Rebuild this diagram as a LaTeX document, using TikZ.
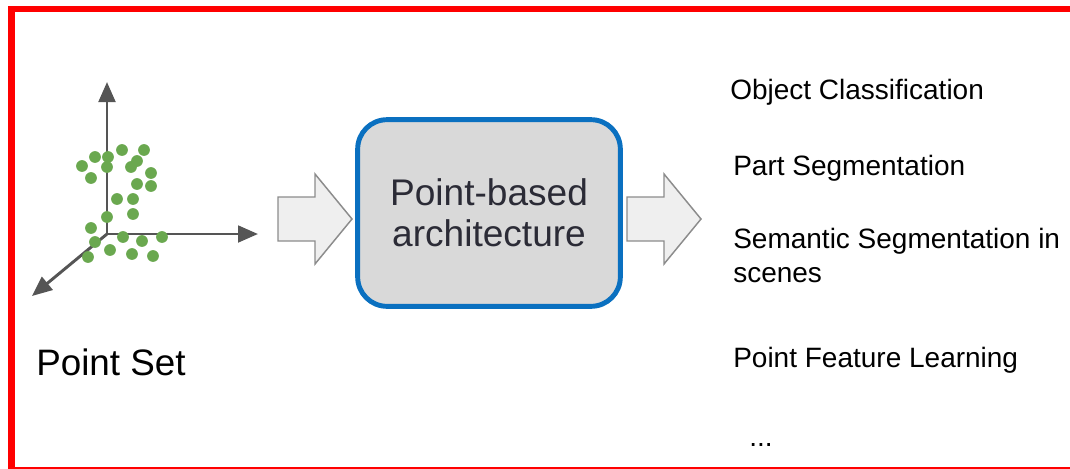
\documentclass[tikz,border=0pt]{standalone}
\usepackage{fontspec}
\setmainfont{Liberation Sans}
\usetikzlibrary{arrows.meta}

\definecolor{framered}{HTML}{FF0000}
\definecolor{dotgreen}{HTML}{6AA84F}
\definecolor{axisgray}{HTML}{555555}
\definecolor{boxblue}{HTML}{0A70C0}
\definecolor{boxfill}{HTML}{D9D9D9}
\definecolor{boxtext}{HTML}{2B2B36}
\definecolor{hollowfill}{HTML}{EFEFEF}
\definecolor{hollowline}{HTML}{8C8C8C}

\begin{document}
\begin{tikzpicture}[x=0.75pt,y=-0.75pt,
  axis/.style={draw=axisgray,line width=2.2pt,-{Triangle[length=15pt,width=12.5pt]}},
  pt/.style={fill=dotgreen},
  hollow/.style={draw=hollowline,fill=hollowfill,line width=1.1pt,line join=miter},
  task/.style={anchor=base west,inner sep=0pt,font=\fontsize{21}{25.5}\selectfont,align=left}]
\useasboundingbox (0,0) rectangle (1070,468);
\draw[framered,line width=4.6pt] (11.5,9) rectangle (1090,470);
% point set
\coordinate (o) at (107,234);
\coordinate (zup) at (107,82);
\coordinate (xr) at (258,234);
\coordinate (yd) at (32,296);
\draw[axis] (o) -- (zup);
\draw[axis] (o) -- (xr);
\draw[axis] (o) -- (yd);
\foreach \x/\y in {82/166,95/157,108/157,122/150,144/150,107/167,131/167,137/161,151/173,91/178,
  137/184,151/186,117/199,133/199,107/217,133/214,91/228,123/237,162/237,95/242,142/241,110/250,
  88/257,132/254,153/256}
  \fill[pt] (\x,\y) circle (4.4pt);
\node[anchor=base west,inner sep=0pt,font=\fontsize{27.6}{30}\selectfont] (pset) at (36,375) {Point Set};
% block arrows
\foreach \a in {278,627}{
  \draw[hollow] (\a,197) -- (\a+37,197) -- (\a+37,174) -- (\a+74,219) -- (\a+37,264) -- (\a+37,241) -- (\a,241) -- cycle;
}
\node[draw=boxblue,fill=boxfill,line width=3.7pt,rounded corners=22pt,minimum width=197pt,minimum height=140pt,
  text=boxtext,align=center,font=\fontsize{27.8}{30.75}\selectfont] (arch) at (489,213) {Point-based\\architecture};
% tasks
\node[task] (cls) at (730,99) {Object Classification};
\node[task] (partseg) at (733,175) {Part Segmentation};
\node[task] (semseg) at (733,282) {Semantic Segmentation in\\scenes};
\node[task] (feat) at (733,367) {Point Feature Learning};
\node[task] (more) at (749,446) {...};
\end{tikzpicture}
\end{document}
